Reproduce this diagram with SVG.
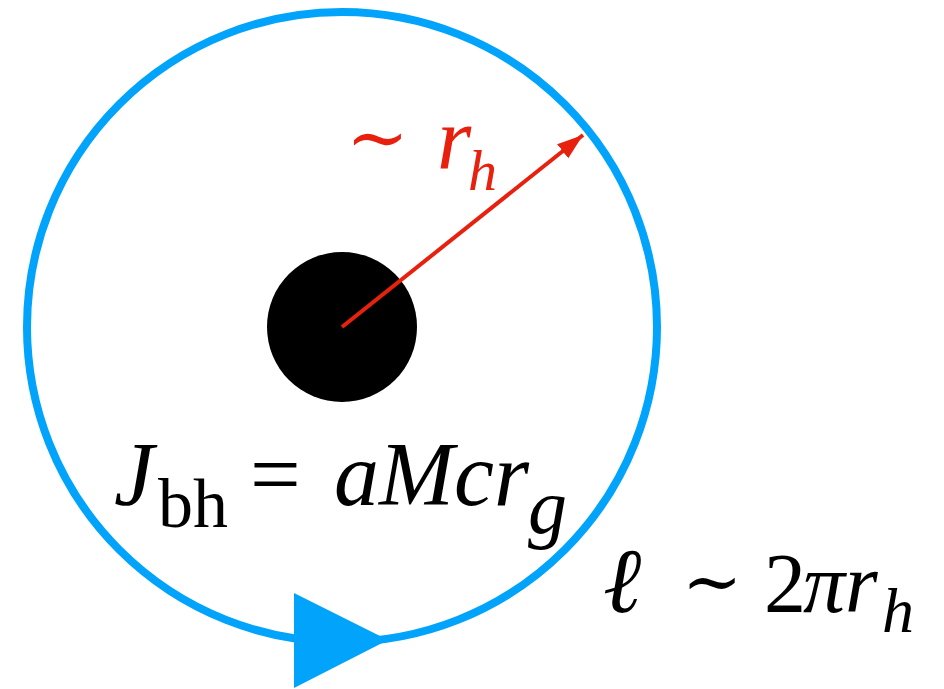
<svg xmlns="http://www.w3.org/2000/svg" width="944" height="689" viewBox="0 0 944 689">
<defs>
<style>
.m{font-family:"Liberation Serif","DejaVu Serif",serif;}
.i{font-style:italic;}
</style>
<marker id="ah" markerUnits="userSpaceOnUse" markerWidth="28" markerHeight="20" refX="26" refY="9" orient="auto">
<polygon points="0,0 26,9 0,18" fill="#e8210e"/>
</marker>
</defs>
<rect width="944" height="689" fill="#ffffff"/>
<g id="loop">
<circle cx="342" cy="327" r="315" fill="none" stroke="#02a3fa" stroke-width="8"/>
<polygon points="294,593 294,688 388,640" fill="#02a3fa"/>
</g>
<g id="blackhole">
<circle cx="342" cy="327" r="75" fill="#000000"/>
</g>
<g id="connectors">
<line x1="342" y1="327" x2="583" y2="135" stroke="#e8210e" stroke-width="4" marker-end="url(#ah)"/>
</g>
<g id="label-rh" class="m" fill="#e8210e">
<text x="346" y="163" font-size="75">∼</text>
<text x="437" y="168" font-size="88" class="i">r</text>
<text x="468" y="190" font-size="58" class="i">h</text>
</g>
<g id="label-J" class="m" fill="#000000">
<text x="114" y="505" font-size="90" class="i">J</text>
<text x="158" y="527" font-size="70">bh</text>
<text x="250" y="505" font-size="90">=</text>
<text x="334" y="505" font-size="90" class="i">aMcr</text>
<text x="528" y="533" font-size="78" class="i">g</text>
</g>
<g id="label-l" class="m" fill="#000000">
<text x="603" y="612" font-size="92" class="i">ℓ</text>
<text x="682" y="606" font-size="72">∼</text>
<text x="764" y="612" font-size="84">2</text>
<text x="803" y="612" font-size="84" class="i">π</text>
<text x="845" y="612" font-size="84" class="i">r</text>
<text x="882" y="632" font-size="64" class="i">h</text>
</g>
</svg>
